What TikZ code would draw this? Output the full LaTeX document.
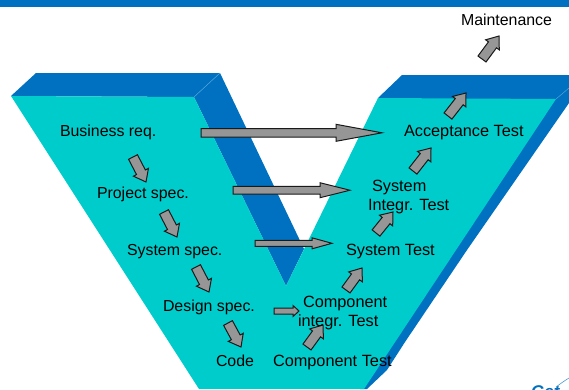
\documentclass[tikz,border=0pt]{standalone}
\usepackage{fontspec}
\setmainfont{Liberation Sans}
\usetikzlibrary{calc}
\definecolor{vblue}{HTML}{0070C0}
\definecolor{vcyan}{HTML}{00CCCC}
\definecolor{vgrey}{HTML}{969696}
\definecolor{vedge}{HTML}{4FA6DC}
\tikzset{
  face/.style={fill=vcyan,draw=none},
  side/.style={fill=vblue,draw=none},
  seam/.style={draw=vedge,line width=0.5pt},
  blockarrow/.style={fill=vgrey,draw=black!90,line width=1pt,line join=miter},
  lab/.style={anchor=base west,inner sep=0pt,outer sep=0pt,text=black,font=\fontsize{15.9}{18}\selectfont},
  labr/.style={lab,font=\fontsize{16.3}{18}\selectfont},
}
% tail name, tip name, shaft half width, head half width, head length
\newcommand{\blockarr}[5]{%
  \coordinate (hb) at ($(#2)!#5pt!(#1)$);
  \draw[blockarrow]
    ($(#1)!#3pt!90:(#2)$) -- ($(hb)!#3pt!-90:(#1)$) -- ($(hb)!#4pt!-90:(#1)$) -- (#2)
    -- ($(hb)!#4pt!90:(#1)$) -- ($(hb)!#3pt!90:(#1)$) -- ($(#1)!#3pt!-90:(#2)$) -- cycle;
}
\begin{document}
\begin{tikzpicture}[x=1pt,y=-1pt]
\useasboundingbox (0,0) rectangle (569,389);
\clip (0,0) rectangle (569,389);
\fill[white] (0,0) rectangle (569,389);
\fill[side] (0,0) rectangle (569,7);
% left top band and inner side
\fill[side] (11,96) -- (36,73) -- (220,73) -- (194,97) -- cycle;
\fill[side] (220,73) -- (304,249) -- (286,286) -- (194,97) -- cycle;
% right top band and outer side
\fill[side] (378,98) -- (402,75) -- (569,75) -- (569,103) -- (467,250) -- (405,342) -- (387,370) -- (367,389) -- (360,389) -- cycle;
% front face
\fill[face] (11,96) -- (194,97) -- (286,286) -- (378,98) -- (556,99) -- (364,389) -- (199,389) -- cycle;
\draw[seam] (194,97) -- (220,73);
\draw[seam] (556,99) -- (569,88);
% coordinates of arrows
\coordinate (a1t) at (201,132.8); \coordinate (a1h) at (382,132.8);
\coordinate (a2t) at (233,190.2); \coordinate (a2h) at (350,190.2);
\coordinate (a3t) at (255,243.3); \coordinate (a3h) at (332,243.3);
\coordinate (a4t) at (274,311); \coordinate (a4h) at (299,311);
\coordinate (d1t) at (133,157); \coordinate (d1h) at (146,182);
\coordinate (d2t) at (164,212); \coordinate (d2h) at (177,237);
\coordinate (d3t) at (196,267); \coordinate (d3h) at (209,292);
\coordinate (d4t) at (228,323); \coordinate (d4h) at (241,347);
\coordinate (d5t) at (307,347); \coordinate (d5h) at (323,325);
\coordinate (d6t) at (346,290); \coordinate (d6h) at (362,268);
\coordinate (d7t) at (376,233); \coordinate (d7h) at (393,212);
\coordinate (d8t) at (413,171); \coordinate (d8h) at (431,148);
\coordinate (d9t) at (448,116); \coordinate (d9h) at (466,93);
\coordinate (d10t) at (482,59); \coordinate (d10h) at (499,36);
\blockarr{a1t}{a1h}{4.3}{8.5}{46}
\blockarr{a2t}{a2h}{3.9}{7.5}{30}
\blockarr{a3t}{a3h}{3}{5.5}{20}
\blockarr{a4t}{a4h}{3}{5.5}{6}
\foreach \n in {d1,d2,d3,d4,d5,d6,d7,d8,d9,d10}{
  \blockarr{\n t}{\n h}{5}{8.5}{11}
}
% labels
\node[lab] (br) at (60,136) {Business req.};
\node[lab] (ps) at (97,198) {Project spec.};
\node[lab] (ss) at (127,255) {System spec.};
\node[lab] (ds) at (163,311) {Design spec.};
\node[lab] (cd) at (216,366) {Code};
\node[labr] (ct) at (273,366) {Component Test};
\node[labr] (ci1) at (303,307) {Component};
\node[labr] (ci2) at (298,326) {integr. Test};
\node[labr] (st) at (346,255) {System Test};
\node[labr] (si1) at (372,191) {System};
\node[labr] (si2) at (368,210) {Integr. Test};
\node[labr] (at) at (404,136) {Acceptance Test};
\node[lab] (mt) at (461,25) {Maintenance};
% cropped logo
\node[anchor=base west,inner sep=0pt,text=vblue,font=\fontsize{17}{20}\selectfont\bfseries\itshape] (logo) at (531,397) {Get};
\draw[vblue!70,line width=0.6pt] (556,387) .. controls (560,384) and (564,381) .. (569,378);
\end{tikzpicture}
\end{document}
